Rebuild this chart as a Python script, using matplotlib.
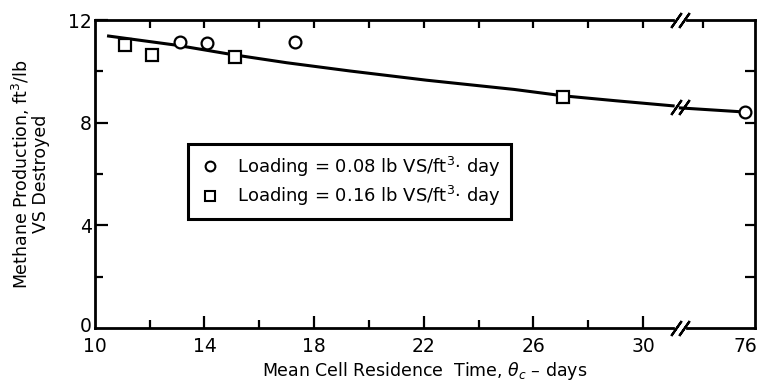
import numpy as np
import matplotlib.pyplot as plt
import matplotlib.transforms as mtransforms
from matplotlib.lines import Line2D

plt.rcParams['font.family'] = 'DejaVu Sans'
plt.rcParams['mathtext.fontset'] = 'dejavusans'

#---Data (x in days, y in ft3/lb VS destroyed)
circle_x = [13.1, 14.1, 17.3, 76]
circle_y = [11.15, 11.1, 11.15, 8.42]
square_x = [11.1, 12.1, 15.1, 27.1]
square_y = [11.03, 10.65, 10.56, 9.02]
curve_x = [10.5, 13.0, 15.0, 17.0, 19.3, 22.1, 25.3, 27.1, 29.0, 31.1, 31.6, 76]
curve_y = [11.38, 11.02, 10.66, 10.34, 10.02, 9.66, 9.30, 9.05, 8.86, 8.66, 8.58, 8.42]
xtick_labels = ['10', '14', '18', '22', '26', '30', '76']
xtick_values = [10, 14, 18, 22, 26, 30, 76]
legend_labels = ['Loading = 0.08 lb VS/ft$^3$$\\cdot$ day',
                 'Loading = 0.16 lb VS/ft$^3$$\\cdot$ day']

#---Broken axis: everything past the break is squeezed into the last bit
BREAK = 31.35
POS76 = 33.72
XMAX = 34.09


def xpos(x):
    x = np.asarray(x, dtype=float)
    return np.where(x <= BREAK, x, BREAK + (x - BREAK) * (POS76 - BREAK) / (76 - BREAK))


fig = plt.figure(figsize=(7.65, 3.87), dpi=100)
ax = fig.add_axes([0.124, 0.152, 0.863, 0.796])
ax.set_xlim(10, XMAX)
ax.set_ylim(0, 12)

cx = np.array(curve_x)
cy = np.array(curve_y)
left = cx < BREAK
ax.plot(xpos(cx[left]), cy[left], '-', color='black', lw=2.2, zorder=2)
ax.plot(xpos(cx[~left]), cy[~left], '-', color='black', lw=2.2, zorder=2)

ax.plot(xpos(circle_x), circle_y, 'o', ms=8.5, mfc='white', mec='black', mew=1.6,
        zorder=3, clip_on=False)
ax.plot(xpos(square_x), square_y, 's', ms=8.5, mfc='white', mec='black', mew=1.6,
        zorder=3)

#---Spines with a gap at the break
for s in ['top', 'bottom']:
    ax.spines[s].set_visible(False)
for s in ['left', 'right']:
    ax.spines[s].set_linewidth(2.0)
trans = ax.get_xaxis_transform()
for yy in [0, 1]:
    ax.plot([10, 31.1], [yy, yy], color='black', lw=2.0, transform=trans, clip_on=False)
    ax.plot([31.6, XMAX], [yy, yy], color='black', lw=2.0, transform=trans, clip_on=False)
    ax.plot([BREAK - 0.13, BREAK + 0.13], [yy, yy], ls='none', marker=(2, 2, -35),
            ms=13, mew=1.6, color='black', transform=trans, clip_on=False)
# break marks on the curve
ybk = np.interp(BREAK, cx, cy)
ax.plot([BREAK - 0.13, BREAK + 0.13], [ybk, ybk], ls='none', marker=(2, 2, -35),
        ms=13, mew=1.6, color='black', zorder=4)

#---Ticks
ax.set_xticks(xpos(xtick_values))
ax.set_xticklabels(xtick_labels, fontsize=13.5)
ax.set_xticks([12, 16, 20, 24, 28], minor=True)
ax.set_yticks([0, 4, 8, 12])
ax.set_yticklabels(['0', '4', '8', '12'], fontsize=13.5)
ax.set_yticks([2, 6, 10], minor=True)
ax.tick_params(which='major', direction='in', length=9, width=1.6, pad=2)
ax.tick_params(which='minor', direction='in', length=5.5, width=1.6)
ax.tick_params(axis='x', which='major', pad=6)
ax.xaxis.get_major_ticks()[-1].tick1line.set_visible(False)
ax.xaxis.get_major_ticks()[0].tick1line.set_visible(False)
ax.yaxis.get_major_ticks()[0].tick1line.set_visible(False)
# lift the "0" a touch so it sits above the "10"
zero = ax.get_yticklabels()[0]
zero.set_transform(zero.get_transform() +
                   mtransforms.ScaledTranslation(0, 3 / 72, fig.dpi_scale_trans))

top = ax.secondary_xaxis('top')
top.set_xticks([12, 14, 16, 18, 20, 22, 24, 26, 28, 30, 32.2])
top.set_xticklabels([])
top.tick_params(direction='in', length=6, width=1.6)
top.spines['top'].set_visible(False)

right = ax.secondary_yaxis('right')
right.set_yticks([2, 4, 6, 8, 10])
right.set_yticklabels([])
right.tick_params(direction='in', length=7.5, width=1.6)
right.spines['right'].set_visible(False)

ax.set_xlabel('Mean Cell Residence  Time, $\\theta_c$ \u2013 days', fontsize=12.5, labelpad=3)
ax.set_ylabel('Methane Production, ft$^3$/lb\nVS Destroyed', fontsize=12.5,
              linespacing=1.0, labelpad=13)

handles = [Line2D([], [], ls='none', marker='o', ms=7, mfc='white', mec='black', mew=1.5),
           Line2D([], [], ls='none', marker='s', ms=7, mfc='white', mec='black', mew=1.5)]
leg = ax.legend(handles, legend_labels, loc='center',
                bbox_to_anchor=(0.133, 0.357, 0.506, 0.24), fontsize=13,
                fancybox=False, framealpha=1, edgecolor='black',
                handlelength=1.2, handletextpad=0.9, labelspacing=0.3, borderpad=0.6)
leg.get_frame().set_linewidth(2.2)

fig.savefig('out.png', dpi=100)
